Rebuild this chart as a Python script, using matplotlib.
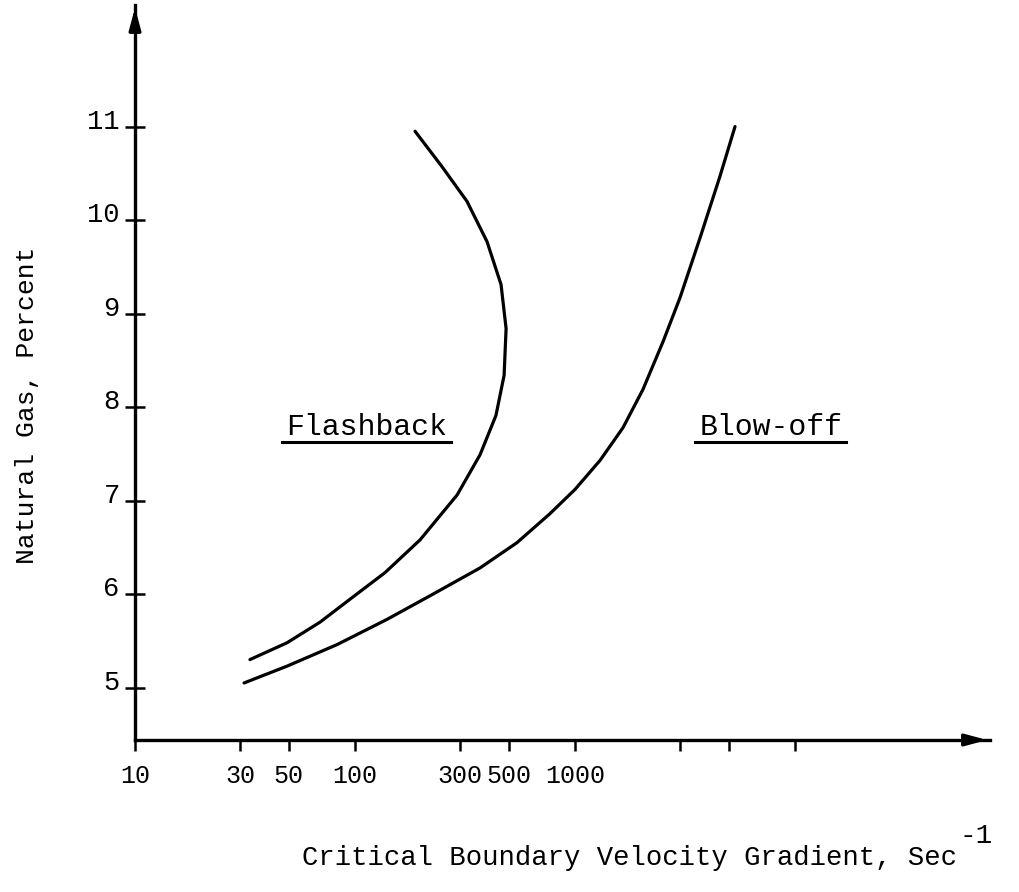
import numpy as np
import matplotlib
matplotlib.use("Agg")
import matplotlib.pyplot as plt
import matplotlib.transforms as mtransforms

# (velocity gradient in 1/s, natural gas in %)
flash_x = [33.3, 49.1, 69.3, 97.9, 136.9, 197.5, 291, 370, 437, 476, 486, 461, 398, 322.8, 248.7, 187.4]
flash_y = [5.30, 5.48, 5.70, 5.97, 6.23, 6.58, 7.06, 7.49, 7.91, 8.34, 8.84, 9.31, 9.77, 10.20, 10.57, 10.95]

blow_x = [31.3, 49.1, 82.8, 139.8, 226.2, 370, 544.5, 769, 1000, 1299, 1652, 2037, 2512, 3000, 3700, 4560, 5336]
blow_y = [5.05, 5.23, 5.46, 5.73, 6.00, 6.28, 6.55, 6.86, 7.12, 7.43, 7.78, 8.19, 8.70, 9.17, 9.81, 10.47, 11.00]

x_ticks = [10, 30, 50, 100, 300, 500, 1000, 3000, 5000, 10000]
x_labels = ["10", "30", "50", "100", "300", "500", "1000", "", "", ""]
y_ticks = [5, 6, 7, 8, 9, 10, 11]

mono = "Liberation Mono"

fig = plt.figure(figsize=(10.19, 8.92), dpi=100)
ax = fig.add_axes([0.1325, 0.1704, 0.839, 0.824])

ax.plot(flash_x, flash_y, color="black", lw=2.3, solid_capstyle="round",
        solid_joinstyle="round")
ax.plot(blow_x, blow_y, color="black", lw=2.3, solid_capstyle="round",
        solid_joinstyle="round")

ax.set_xscale("log")
ax.set_xlim(10, 76900)
ax.set_ylim(4.44, 12.3)

ax.set_xticks(x_ticks)
ax.set_xticklabels(x_labels)
ax.xaxis.set_minor_locator(matplotlib.ticker.NullLocator())
ax.set_yticks(y_ticks)
ax.set_yticklabels([str(v) for v in y_ticks])

for s in ["top", "right"]:
    ax.spines[s].set_visible(False)
for s in ["left", "bottom"]:
    ax.spines[s].set_linewidth(2.4)

ax.tick_params(axis="x", direction="out", length=8, width=1.8, pad=9,
               labelsize=18)
ax.tick_params(axis="y", direction="inout", length=14, width=1.8, pad=4,
               labelsize=19.5)
for lab in ax.get_xticklabels() + ax.get_yticklabels():
    lab.set_fontfamily(mono)
# y labels sit a little above their ticks in the original
up = mtransforms.ScaledTranslation(0, 0.08, fig.dpi_scale_trans)
for lab in ax.get_yticklabels():
    lab.set_transform(lab.get_transform() + up)

# arrow heads at axis ends
ax.annotate("", xy=(1.0, 0), xytext=(0.97, 0), xycoords="axes fraction",
            arrowprops=dict(arrowstyle="-|>,head_length=1.3,head_width=0.35",
                            color="black", lw=2.4), annotation_clip=False)
ax.annotate("", xy=(0, 1.0), xytext=(0, 0.97), xycoords="axes fraction",
            arrowprops=dict(arrowstyle="-|>,head_length=1.3,head_width=0.35",
                            color="black", lw=2.4), annotation_clip=False)

# region labels, underlined
for txt, xv in [("Flashback", 113), ("Blow-off", 7760)]:
    ax.text(xv, 7.70, txt, family=mono, fontsize=21.5, ha="center",
            va="baseline")
    t_len = 0.6 * 21.5 * len(txt) / 72 * 100 + 8
    xd = ax.transData.transform((xv, 7.70))
    inv = ax.transData.inverted()
    x0 = inv.transform((xd[0] - t_len / 2, xd[1]))[0]
    x1 = inv.transform((xd[0] + t_len / 2, xd[1]))[0]
    ax.plot([x0, x1], [7.63, 7.63], color="black", lw=2.2)

fig.text(27 / 1019, 1 - 405 / 892, "Natural Gas, Percent", family=mono,
         fontsize=19, rotation=90, ha="center", va="center")
fig.text(957 / 1019, 1 - 865 / 892, "Critical Boundary Velocity Gradient, Sec",
         family=mono, fontsize=19.6, ha="right", va="baseline")
fig.text(960 / 1019, 1 - 843 / 892, "-1", family=mono, fontsize=20,
         ha="left", va="baseline")

fig.savefig("out.png", dpi=100)
